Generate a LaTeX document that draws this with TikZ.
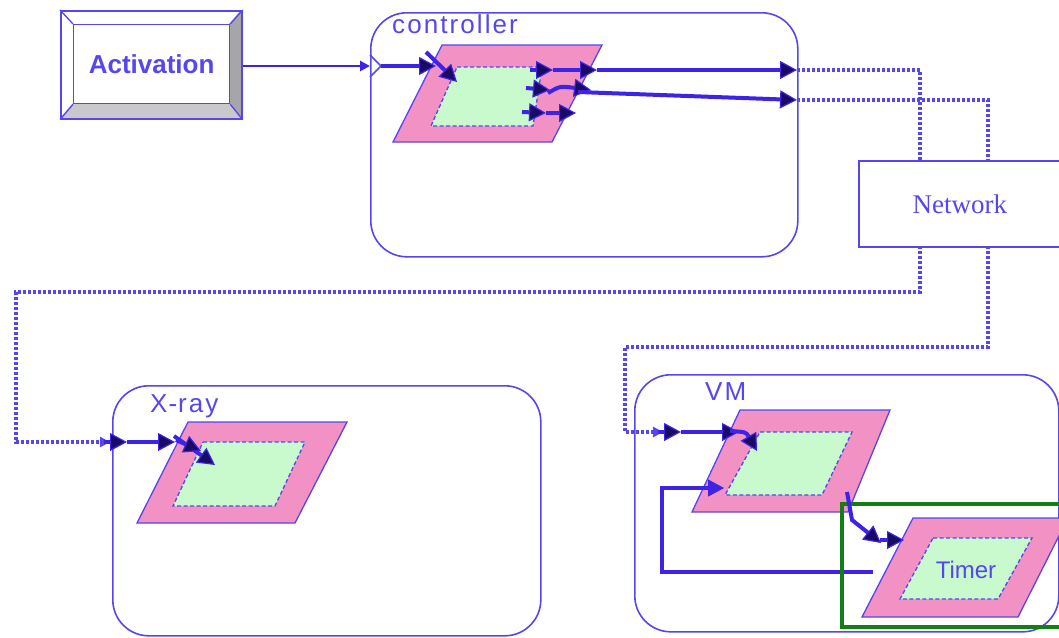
\documentclass[tikz,border=0pt]{standalone}
\usepackage{fontspec}
\setmainfont{Liberation Serif}
\setsansfont{Liberation Sans}
\newfontfamily\labfont[LetterSpace=8]{Liberation Sans}
\usetikzlibrary{arrows.meta}
\definecolor{lb}{RGB}{85,70,240}
\definecolor{ab}{RGB}{60,35,230}
\definecolor{pk}{RGB}{242,145,195}
\definecolor{lg}{RGB}{200,250,205}
\definecolor{dg}{RGB}{20,125,20}
\definecolor{tipc}{RGB}{25,10,100}
\definecolor{bev}{RGB}{165,165,170}
\definecolor{bevl}{RGB}{200,200,205}
\begin{document}
\begin{tikzpicture}[x=1pt,y=-1pt,
  roundbox/.style={draw=lb, line width=1.6pt, rounded corners=36pt, inner sep=0pt, anchor=north west},
  outerpar/.style={fill=pk, draw=lb, line width=1.3pt},
  innerpar/.style={fill=lg, draw=lb, line width=1.3pt, dash pattern=on 4pt off 2.5pt},
  flow/.style={draw=ab, line width=4pt, -{Triangle[length=17pt,width=18pt,fill=tipc,line width=1.2pt]}},
  thinflow/.style={draw=ab, line width=2.5pt, -{Triangle[length=10pt,width=10pt,fill=ab]}},
  netline/.style={draw=lb, line width=3.5pt, dash pattern=on 3pt off 2pt},
  lab/.style={font=\labfont\fontsize{26}{28}\selectfont, text=lb, inner sep=0pt, anchor=base west}]
\useasboundingbox (0,0) rectangle (1059,637);
\clip (0,0) rectangle (1059,637);

% ---------- Activation ----------
\fill[bev] (229,24) -- (241,10) -- (241,118) -- (229,103) -- cycle;
\fill[bevl] (73,103) -- (229,103) -- (241,118) -- (60,118) -- cycle;
\node[draw=lb, line width=1.6pt, minimum width=181pt, minimum height=108pt, inner sep=0pt, anchor=north west] (act) at (60,10) {};
\node[draw=lb, line width=1.3pt, minimum width=156pt, minimum height=79pt, inner sep=0pt, anchor=north west,
      font=\sffamily\bfseries\fontsize{26}{28}\selectfont, text=lb] (acti) at (73,24) {Activation};
\draw[lb, line width=1.3pt] (act.north west) -- (acti.north west) (act.north east) -- (acti.north east)
  (act.south west) -- (acti.south west) (act.south east) -- (acti.south east);

% ---------- controller ----------
\node[roundbox, minimum width=427pt, minimum height=244pt] (ctrl) at (370,12) {};
\node[lab] (ctrllab) at (392,33) {controller};
\draw[outerpar] (442,45) -- (602,45) -- (552,142) -- (393,142) -- cycle;
\draw[innerpar] (457,67) -- (542,67) -- (533,126) -- (431,126) -- cycle;
\coordinate (cin) at (370,66);
\coordinate (co1) at (797,70);
\coordinate (co2) at (797,100);
\draw[thinflow] (act.east |- cin) -- (cin);
\draw[lb, line width=1.6pt] (370,55) -- (381,66) -- (370,77);
\draw[flow] (381,66) -- (436,66);
\draw[flow] (426,52) -- (457,82);
\draw[flow] (530,70) -- (553,70);
\draw[flow] (553,70) -- (597,70);
\draw[flow] (597,70) -- (co1);
\draw[flow] (526,88) -- (550,90);
\draw[flow] (548,93) .. controls (560,86) .. (591,90);
\draw[flow] (578,92) -- (co2);
\draw[flow] (522,112) -- (546,113);
\draw[flow] (546,113) -- (576,113);

% ---------- Network ----------
\node[draw=lb, line width=1.6pt, minimum width=206pt, minimum height=86pt, inner sep=0pt, anchor=north west,
      font=\fontsize{27}{29}\selectfont, text=lb] (net) at (858,160) {\hspace*{-4pt}Network};
\coordinate (n1) at (920,160);
\coordinate (n2) at (988,160);
\coordinate (n3) at (920,246);
\coordinate (n4) at (988,246);
\draw[netline] (co1) -- (920,70) -- (n1);
\draw[netline] (co2) -- (988,100) -- (n2);

% ---------- X-ray ----------
\node[roundbox, minimum width=428pt, minimum height=250pt] (xray) at (112,385) {};
\node[lab] (xlab) at (150,412) {X\kern1pt{-}\kern1pt ray};
\draw[outerpar] (188,422) -- (347,422) -- (295,523) -- (137,523) -- cycle;
\draw[innerpar] (203,442) -- (305,442) -- (275,506) -- (173,506) -- cycle;
\coordinate (xin) at (110,442);
\draw[netline, -{Triangle[length=10pt,width=10pt,fill=lb]}] (n3) -- (920,292) -- (16,292) -- (16,442) -- (xin);
\draw[flow] (104,442) -- (127,442);
\draw[flow] (127,442) -- (175,442);
\draw[flow] (174,436) -- (215,465);
\draw[flow] (176,440) -- (201,451);

% ---------- VM ----------
\node[roundbox, minimum width=424pt, minimum height=257pt] (vm) at (634,374) {};
\node[lab] (vmlab) at (705,400) {VM};
\draw[outerpar] (740,410) -- (890,410) -- (848,512) -- (692,512) -- cycle;
\draw[innerpar] (760,432) -- (852,432) -- (822,495) -- (725,495) -- cycle;
\coordinate (vin) at (663,432);
\draw[netline, -{Triangle[length=10pt,width=10pt,fill=lb]}] (n4) -- (988,347) -- (625,347) -- (625,432) -- (vin);
\draw[flow] (658,432) -- (681,432);
\draw[flow] (681,432) -- (739,432);
\draw[flow] (730,431) .. controls (746,432) .. (757,451);
\draw[draw=ab, line width=4.5pt, -{Triangle[length=16pt,width=17pt,fill=ab,line width=1pt]}]
  (873,572) -- (662,572) -- (662,488) -- (724,488);

% ---------- Timer ----------
\node[draw=dg, line width=4pt, minimum width=230pt, minimum height=123pt, inner sep=0pt, anchor=north west] (tbox) at (840,502) {};
\draw[outerpar] (913,518) -- (1068,518) -- (1018,617) -- (862,617) -- cycle;
\draw[innerpar] (933,538) -- (1032,538) -- (998,599) -- (900,599) -- cycle;
\node[font=\sffamily\fontsize{24}{26}\selectfont, text=lb, inner sep=0pt] (tlab) at (966,570) {Timer};
\draw[flow] (847,492) -- (852,520) -- (881,543);
\draw[flow] (880,540) -- (904,540);
\end{tikzpicture}
\end{document}
